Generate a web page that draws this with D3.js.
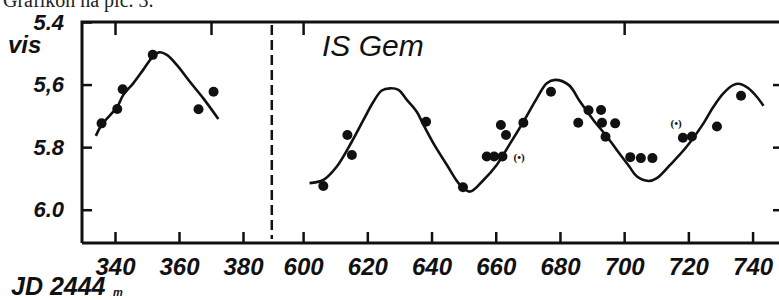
<!DOCTYPE html>
<meta charset="utf-8">
<script src="https://d3js.org/d3.v7.min.js"></script>
<style>
  body { margin: 0; background: #fff; }
  svg { display: block; }
  .lbl { font-family: "Liberation Sans", Arial, sans-serif; font-style: italic; font-weight: bold; fill: #111; }
</style>
<div id="chart"></div>
<script>
  // observations, left part (JD 2444xxx, visual magnitude)
  const leftObs = [[335.8, 5.724], [340.7, 5.678], [342.4, 5.615], [351.8, 5.505], [366.1, 5.679], [370.8, 5.623]];
  // observations, right part
  const rightObs = [
    [606.3, 5.924], [613.8, 5.761], [615.2, 5.825], [638.3, 5.719], [649.8, 5.928],
    [657.2, 5.830], [659.5, 5.830], [662.1, 5.830], [661.6, 5.729], [663.2, 5.761],
    [668.6, 5.722], [677.2, 5.623], [685.7, 5.722], [688.9, 5.682], [692.8, 5.681],
    [693.1, 5.722], [697.2, 5.724], [694.2, 5.767], [701.9, 5.832], [705.2, 5.835],
    [708.8, 5.835], [718.3, 5.770], [721.1, 5.766], [728.9, 5.734], [736.4, 5.636]
  ];
  // hand drawn light curves
  const leftCurve = [[334.0, 5.764], [335.8, 5.729], [340.7, 5.671], [342.6, 5.633], [345.7, 5.596], [348.8, 5.553],
    [351.8, 5.511], [353.8, 5.497], [356.2, 5.505], [359.3, 5.537], [363.4, 5.591], [367.6, 5.644], [372.3, 5.710]];
  const rightCurve = [[602.0, 5.915], [606.3, 5.905], [610.5, 5.862], [615.2, 5.782], [618.8, 5.713], [621.9, 5.655],
    [624.5, 5.619], [627.1, 5.612], [629.7, 5.617], [632.3, 5.649], [635.4, 5.687], [637.5, 5.729], [640.6, 5.788],
    [644.8, 5.857], [648.9, 5.921], [652.0, 5.942], [656.2, 5.905], [660.3, 5.857], [664.5, 5.788], [668.6, 5.719],
    [672.8, 5.644], [675.9, 5.596], [678.5, 5.585], [682.7, 5.601], [686.3, 5.655], [690.4, 5.713], [694.6, 5.766],
    [697.7, 5.809], [701.6, 5.862], [704.0, 5.894], [707.6, 5.908], [710.2, 5.899], [714.3, 5.857], [719.5, 5.798],
    [724.7, 5.724], [727.8, 5.671], [730.9, 5.628], [734.1, 5.601], [736.1, 5.598], [738.7, 5.612], [741.3, 5.639],
    [743.4, 5.668]];
  // small bracketed marks
  const notes = [[667.3, 5.832], [716.2, 5.722]];

  const leftTicks = [340, 360, 380];
  const rightTicks = [600, 620, 640, 660, 680, 700, 720, 740];
  const magTicks = [5.4, 5.6, 5.8, 6.0];
  const magLabels = ["5.4", "5,6", "5.8", "6.0"];
  const breakDay = 389;

  const width = 779, height = 300;
  const svg = d3.select("#chart").append("svg").attr("width", width).attr("height", height);

  const xL = d3.scaleLinear().domain([330, 390]).range([83, 275]);
  const xR = d3.scaleLinear().domain([590, 780]).range([271, 881]);
  const y = d3.scaleLinear().domain([5.4, 6.1]).range([22, 241]);
  const frameTop = 22, frameBottom = 243, frameLeft = 82, frameRight = 781;

  // frame
  svg.append("path")
    .attr("d", `M${frameLeft},${frameBottom}V${frameTop}H${frameRight}V${frameBottom}H${frameLeft}`)
    .attr("fill", "none").attr("stroke", "#111").attr("stroke-width", 3);

  // break line
  svg.append("line")
    .attr("x1", xL(breakDay)).attr("x2", xL(breakDay))
    .attr("y1", frameTop + 3).attr("y2", frameBottom - 4)
    .attr("stroke", "#111").attr("stroke-width", 2.5).attr("stroke-dasharray", "10,5");

  function styleAxis(g) {
    g.select(".domain").remove();
    g.selectAll("line").attr("stroke", "#111").attr("stroke-width", 2.5);
    g.selectAll("text").attr("class", "lbl").style("font-size", "24px");
  }

  svg.append("g").attr("transform", `translate(0,${frameBottom})`)
    .call(d3.axisBottom(xL).tickValues(leftTicks).tickSizeInner(-11).tickSizeOuter(0).tickPadding(15))
    .call(styleAxis);
  svg.append("g").attr("transform", `translate(0,${frameBottom})`)
    .call(d3.axisBottom(xR).tickValues(rightTicks).tickSizeInner(-11).tickSizeOuter(0).tickPadding(15))
    .call(styleAxis);
  svg.append("g").attr("transform", `translate(0,${frameTop})`)
    .call(d3.axisTop(xL).tickValues([340, 370]).tickSizeInner(-13).tickSizeOuter(0).tickFormat(""))
    .call(styleAxis);
  svg.append("g").attr("transform", `translate(0,${frameTop})`)
    .call(d3.axisTop(xR).tickValues([600, 700]).tickSizeInner(-13).tickSizeOuter(0).tickFormat(""))
    .call(styleAxis);
  svg.append("g").attr("transform", `translate(${frameLeft},0)`)
    .call(d3.axisLeft(y).tickValues(magTicks).tickSizeInner(-10).tickSizeOuter(0).tickPadding(18)
      .tickFormat((d, i) => magLabels[i]))
    .call(styleAxis)
    .selectAll("text").style("font-size", "22px");
  svg.append("g").attr("transform", `translate(${frameRight},0)`)
    .call(d3.axisRight(y).tickValues(magTicks.slice(1)).tickSizeInner(-8).tickSizeOuter(0).tickFormat(""))
    .call(styleAxis);

  // curves
  const lineL = d3.line().x(d => xL(d[0])).y(d => y(d[1])).curve(d3.curveCatmullRom);
  const lineR = d3.line().x(d => xR(d[0])).y(d => y(d[1])).curve(d3.curveCatmullRom);
  svg.append("path").attr("d", lineL(leftCurve))
    .attr("fill", "none").attr("stroke", "#111").attr("stroke-width", 2.6);
  svg.append("path").attr("d", lineR(rightCurve))
    .attr("fill", "none").attr("stroke", "#111").attr("stroke-width", 2.6);

  // points
  svg.selectAll("circle.l").data(leftObs).join("circle").attr("class", "l")
    .attr("cx", d => xL(d[0])).attr("cy", d => y(d[1])).attr("r", 5).attr("fill", "#111");
  svg.selectAll("circle.r").data(rightObs).join("circle").attr("class", "r")
    .attr("cx", d => xR(d[0])).attr("cy", d => y(d[1])).attr("r", 5).attr("fill", "#111");

  svg.selectAll("text.note").data(notes).join("text").attr("class", "note")
    .attr("x", d => xR(d[0])).attr("y", d => y(d[1]) + 4)
    .attr("text-anchor", "middle").attr("fill", "#111")
    .style("font-family", "Liberation Serif, serif").style("font-size", "11px").style("font-weight", "bold")
    .text("(•)");

  // texts
  svg.append("text").attr("class", "lbl").attr("x", 8).attr("y", 53).style("font-size", "24px").text("vis");
  svg.append("text").attr("x", 322).attr("y", 56)
    .style("font-family", "Liberation Sans, Arial, sans-serif").style("font-style", "italic")
    .style("font-size", "30px").attr("fill", "#111").text("IS Gem");
  svg.append("text").attr("class", "lbl").attr("x", 11).attr("y", 295).style("font-size", "25px").text("JD 2444");
  svg.append("text").attr("class", "lbl").attr("x", 113).attr("y", 296).style("font-size", "11px").text("m");
  svg.append("text").attr("x", 3).attr("y", 7)
    .style("font-family", "Liberation Serif, serif").style("font-size", "20px").attr("fill", "#222")
    .text("Grafikon na pic. 3.");
</script>
